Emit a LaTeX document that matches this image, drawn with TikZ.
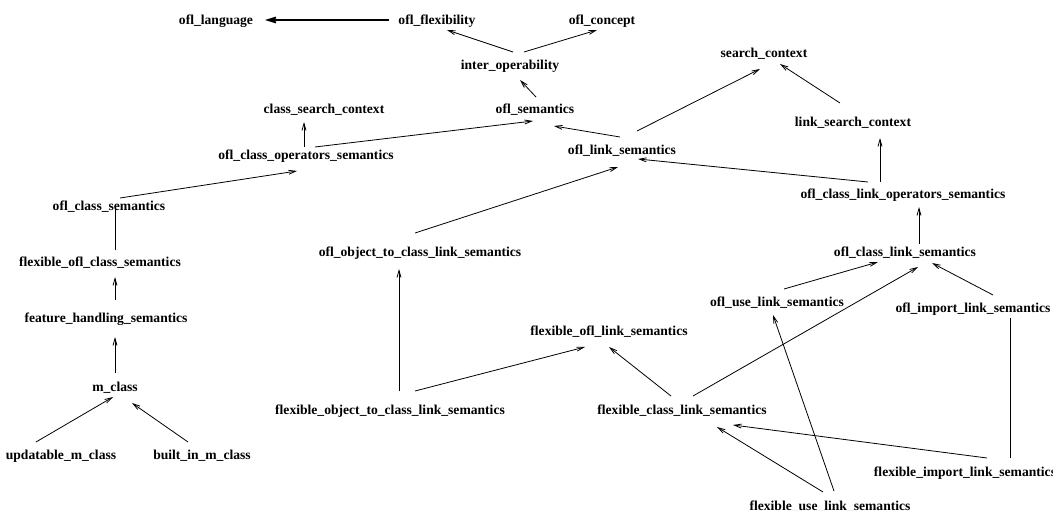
\documentclass[tikz,border=0pt]{standalone}
\usepackage{fontspec}
\setmainfont{Liberation Serif}
\usetikzlibrary{arrows.meta}
\begin{document}
\begin{tikzpicture}[x=1pt,y=-1pt,
  lbl/.style={inner sep=0pt, text height=9.5pt, text depth=0pt,
    font=\fontsize{13.6}{16}\selectfont\bfseries},
  link/.style={line width=0.8pt},
  arr/.style={link, -{Straight Barb[length=7pt,width=4pt]}},
  heavy/.style={line width=1.8pt, -{Straight Barb[length=8pt,width=5pt]}}]
\useasboundingbox (0,0) rectangle (1053,511);

% class hierarchy on the left
\node[lbl] (lang)      at (216,20)  {ofl\_language};
\node[lbl] (flex)      at (437,20)  {ofl\_flexibility};
\node[lbl] (concept)   at (602,20)  {ofl\_concept};
\node[lbl] (inter)     at (510,65)  {inter\_operability};
\node[lbl] (clsctx)    at (324,109) {class\_search\_context};
\node[lbl] (oflsem)    at (535,109) {ofl\_semantics};
\node[lbl] (clops)     at (306,155) {ofl\_class\_operators\_semantics};
\node[lbl] (linksem)   at (622,150) {ofl\_link\_semantics};
\node[lbl] (searchctx) at (764,53)  {search\_context};
\node[lbl] (linkctx)   at (853,122) {link\_search\_context};
\node[lbl] (cllinkops) at (903,194) {ofl\_class\_link\_operators\_semantics};
\node[lbl] (clsem)     at (109,206) {ofl\_class\_semantics};
\node[lbl] (flexclsem) at (100,262) {flexible\_ofl\_class\_semantics};
\node[lbl] (feat)      at (106,318) {feature\_handling\_semantics};
\node[lbl] (mclass)    at (115,387) {m\_class};
\node[lbl] (upd)       at (61,455)  {updatable\_m\_class};
\node[lbl] (builtin)   at (202,455) {built\_in\_m\_class};
\node[lbl] (objcls)    at (420,252) {ofl\_object\_to\_class\_link\_semantics};
\node[lbl] (flexobjcls) at (390,410) {flexible\_object\_to\_class\_link\_semantics};
\node[lbl] (cllinksem) at (905,252) {ofl\_class\_link\_semantics};
\node[lbl] (uselink)   at (777,302) {ofl\_use\_link\_semantics};
\node[lbl] (importlink) at (973,308) {ofl\_import\_link\_semantics};
\node[lbl] (flexofllink) at (609,331) {flexible\_ofl\_link\_semantics};
\node[lbl] (flexcllink) at (682,410) {flexible\_class\_link\_semantics};
\node[lbl] (fleximport) at (965,472) {flexible\_import\_link\_semantics};
\node[lbl] (flexuse)   at (830,506) {flexible\_use\_link\_semantics};

% top of the hierarchy
\draw[heavy] ([shift={(-48,0)}]flex.center) -- ([shift={(49,0)}]lang.center);
\draw[arr] ([shift={(3,-13)}]inter.center) -- ([shift={(10,10)}]flex.center);
\draw[arr] ([shift={(14,-13)}]inter.center) -- ([shift={(-5,10)}]concept.center);
\draw[arr] ([shift={(1,-12)}]oflsem.center) -- ([shift={(10,15)}]inter.center);
\draw[arr] ([shift={(-2,-8)}]clops.center) -- ([shift={(-20,13)}]clsctx.center);
\draw[arr] ([shift={(9,-8)}]clops.center) -- ([shift={(-2,12)}]oflsem.center);
\draw[arr] ([shift={(-2,-13)}]linksem.center) -- ([shift={(19,17)}]oflsem.center);
\draw[arr] ([shift={(15,-19)}]linksem.center) -- ([shift={(-4,16)}]searchctx.center);
\draw[arr] ([shift={(-13,-19)}]linkctx.center) -- ([shift={(16,11)}]searchctx.center);
\draw[arr] ([shift={(-23,-12)}]cllinkops.center) -- ([shift={(27,16)}]linkctx.center);
\draw[arr] ([shift={(-35,-12)}]cllinkops.center) -- ([shift={(16,9)}]linksem.center);

% class semantics chain
\draw[arr] ([shift={(11,-8)}]clsem.center) -- ([shift={(-9,16)}]clops.center);
\draw[link] ([shift={(15,-12)}]flexclsem.center) -- ([shift={(6,2)}]clsem.center);
\draw[arr] ([shift={(9,-18)}]feat.center) -- ([shift={(15,15)}]flexclsem.center);
\draw[arr] ([shift={(0,-14)}]mclass.center) -- ([shift={(9,19)}]feat.center);
\draw[arr] ([shift={(-25,-13)}]upd.center) -- ([shift={(-2,10)}]mclass.center);
\draw[arr] ([shift={(-14,-13)}]builtin.center) -- ([shift={(17,16)}]mclass.center);

% link semantics
\draw[arr] ([shift={(-5,-19)}]objcls.center) -- ([shift={(-4,17)}]linksem.center);
\draw[arr] ([shift={(14,-8)}]cllinksem.center) -- ([shift={(16,13)}]cllinkops.center);
\draw[arr] ([shift={(7,-13)}]uselink.center) -- ([shift={(-27,10)}]cllinksem.center);
\draw[arr] ([shift={(20,-13)}]importlink.center) -- ([shift={(27,11)}]cllinksem.center);
\draw[arr] ([shift={(11,-14)}]flexcllink.center) -- ([shift={(13,15)}]cllinksem.center);
\draw[arr] ([shift={(-11,-14)}]flexcllink.center) -- ([shift={(0,16)}]flexofllink.center);
\draw[arr] ([shift={(25,-19)}]flexobjcls.center) -- ([shift={(-24,16)}]flexofllink.center);
\draw[arr] ([shift={(9,-19)}]flexobjcls.center) -- ([shift={(-21,17)}]objcls.center);
\draw[link] ([shift={(45,-14)}]fleximport.center) -- ([shift={(37,10)}]importlink.center);
\draw[arr] ([shift={(22,-14)}]fleximport.center) -- ([shift={(51,15)}]flexcllink.center);
\draw[arr] ([shift={(-7,-14)}]flexuse.center) -- ([shift={(35,17)}]flexcllink.center);
\draw[arr] ([shift={(4,-15)}]flexuse.center) -- ([shift={(-4,13)}]uselink.center);
\end{tikzpicture}
\end{document}
